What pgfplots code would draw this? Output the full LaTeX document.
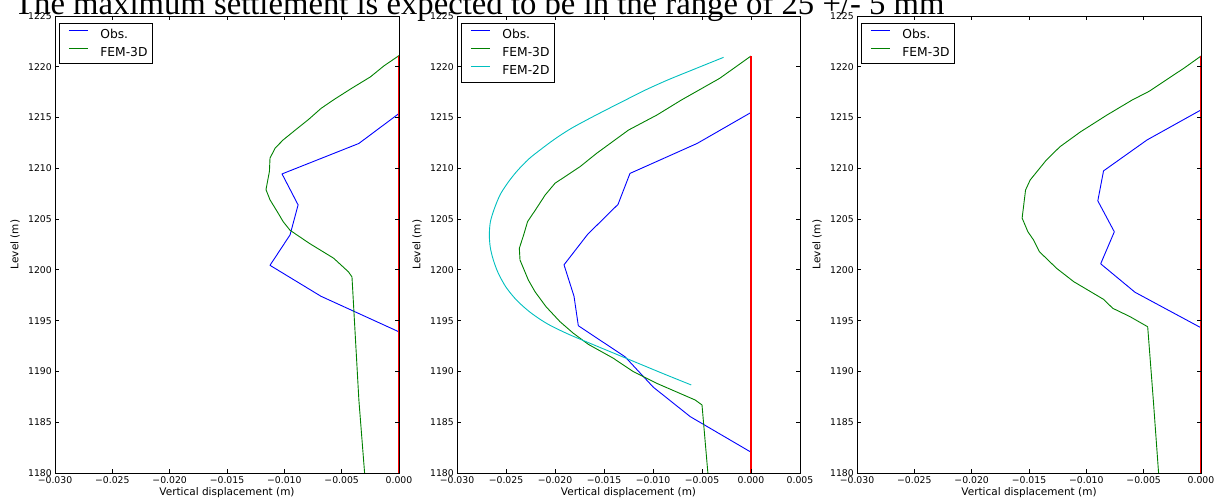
\documentclass[border=0pt]{standalone}
\usepackage{pgfplots}
\pgfplotsset{compat=1.18}
\usepackage{fontspec}
\setmainfont{DejaVu Sans}
\newfontfamily\titlefont{Liberation Serif}

\definecolor{mplblue}{rgb}{0,0,1}
\definecolor{mplgreen}{rgb}{0,0.5,0}
\definecolor{mplcyan}{rgb}{0,0.75,0.75}
\definecolor{mplred}{rgb}{1,0,0}

% one matplotlib-like panel, 1pt = 1px of the reference
\pgfplotsset{
  panel/.style={
    scale only axis, width=344pt, height=457pt, anchor=south west,
    xmin=-0.03, ymin=1180, ymax=1225,
    ytick={1180,1185,1190,1195,1200,1205,1210,1215,1220,1225},
    scaled x ticks=false, scaled y ticks=false,
    axis on top,
    tick align=inside, major tick length=4pt,
    tick style={black, line width=0.8pt},
    axis line style={black, line width=0.9pt},
    /pgf/number format/assume math mode=true,
    /pgf/number format/1000 sep={},
    tick label style={font=\fontsize{9.3}{11}\selectfont},
    xticklabel style={inner sep=0pt, yshift=-3pt},
    yticklabel style={inner sep=0pt, xshift=-3pt},
    label style={font=\fontsize{10.5}{12}\selectfont},
    xlabel={Vertical displacement (m)},
    ylabel={Level (m)},
    xlabel style={at={(axis description cs:0.5,-0.0503)}, anchor=base},
    ylabel style={at={(axis description cs:-0.1163,0.5)}, anchor=center},
    legend cell align=left,
    legend style={at={(axis description cs:0.0116,0.985)}, anchor=north west,
      draw=black, line width=0.9pt, fill=white,
      inner xsep=5pt, inner ysep=1.8pt,
      font=\fontsize{12.3}{14}\selectfont,
      nodes={inner xsep=0pt, inner ysep=3pt, text height=9.9pt, text depth=2.5pt}},
    every axis plot/.append style={line width=0.9pt, line join=round},
  },
}
\pgfplotsset{legend image code/.code={%
  \path (0pt,0pt) (35pt,0pt);
  \draw[#1] (4pt,4.2pt) -- (23pt,4.2pt);}}

\begin{document}
\begin{tikzpicture}
\node[anchor=base west, inner sep=0pt, font=\titlefont\fontsize{32.7}{36}\selectfont]
  at (14pt,484pt) {The maximum settlement is expected to be in the range of 25 +/- 5 mm};

% ---- panel 1 ----
\begin{axis}[panel, at={(55pt,26pt)}, xmax=0,
  xtick={-0.03,-0.025,-0.02,-0.015,-0.01,-0.005,0},
  xticklabels={−0.030,−0.025,−0.020,−0.015,−0.010,−0.005,0.000}]
\addplot[draw=mplblue] coordinates {
  (0,1215.4) (-0.0035,1212.45) (-0.0102,1209.45) (-0.0088,1206.4)
  (-0.0095,1203.45) (-0.01125,1200.45) (-0.0068,1197.4) (0,1193.9)};
\addlegendentry{Obs.}
\addplot[draw=mplgreen] coordinates {
  (0,1221.1) (-0.0013,1220.1) (-0.0025,1219.0) (-0.0041,1217.9) (-0.0057,1216.75)
  (-0.0068,1215.9) (-0.0079,1214.8) (-0.0089,1213.9) (-0.0101,1212.8) (-0.0108,1212.0)
  (-0.01125,1211.0) (-0.0113,1209.7) (-0.0116,1207.9) (-0.01125,1206.9) (-0.0106,1205.7)
  (-0.0101,1204.75) (-0.0095,1203.9) (-0.0078,1202.6) (-0.0057,1201.15) (-0.0044,1199.8)
  (-0.0041,1199.3) (-0.0035,1187.2) (-0.0030,1180)};
\addlegendentry{FEM-3D}
\addplot[draw=mplred, line width=1.1pt, forget plot] coordinates {(0,1180) (0,1221.1)};
\end{axis}

% ---- panel 2 ----
\begin{axis}[panel, at={(457pt,26pt)}, width=343pt, xmax=0.005,
  xtick={-0.03,-0.025,-0.02,-0.015,-0.01,-0.005,0,0.005},
  xticklabels={−0.030,−0.025,−0.020,−0.015,−0.010,−0.005,0.000,0.005}]
\addplot[draw=mplblue] coordinates {
  (0,1215.5) (-0.0055,1212.45) (-0.01235,1209.5) (-0.01357,1206.45) (-0.01667,1203.5)
  (-0.01908,1200.5) (-0.01806,1197.4) (-0.01762,1194.5) (-0.01286,1191.45)
  (-0.00997,1188.45) (-0.0062,1185.55) (0,1182.05)};
\addlegendentry{Obs.}
\addplot[draw=mplgreen] coordinates {
  (0,1221.06) (-0.0032,1218.86) (-0.0071,1216.73) (-0.0096,1215.25) (-0.0125,1213.77)
  (-0.01575,1211.48) (-0.01745,1210.16) (-0.0200,1208.53) (-0.0210,1207.38)
  (-0.0220,1205.9) (-0.0228,1204.75) (-0.0232,1203.44) (-0.02364,1202.13)
  (-0.02357,1200.97) (-0.02272,1199.0) (-0.02204,1197.85) (-0.02092,1196.38)
  (-0.01949,1194.9) (-0.01813,1193.76) (-0.0166,1192.67) (-0.01405,1191.3)
  (-0.01201,1189.98) (-0.00962,1188.83) (-0.0057,1187.19) (-0.0050,1186.7) (-0.0044,1180)};
\addlegendentry{FEM-3D}
\addplot[draw=mplcyan, smooth] coordinates {
  (-0.0028,1220.93) (-0.0057,1219.8) (-0.0085,1218.7) (-0.0108,1217.7) (-0.0128,1216.73)
  (-0.0147,1215.8) (-0.0165,1214.9) (-0.0184,1213.9) (-0.0200,1212.9) (-0.0214,1211.9)
  (-0.0227,1210.9) (-0.0239,1209.7) (-0.0248,1208.6) (-0.0256,1207.4) (-0.0262,1206.0)
  (-0.0266,1204.7) (-0.0267,1203.4) (-0.0266,1202.2) (-0.0263,1201.0) (-0.0258,1199.7)
  (-0.0250,1198.3) (-0.0239,1197.0) (-0.0225,1195.8) (-0.0208,1194.7) (-0.0187,1193.7)
  (-0.0160,1192.6) (-0.0125,1191.2) (-0.0090,1189.8) (-0.0061,1188.67)};
\addlegendentry{FEM-2D}
\addplot[draw=mplred, line width=1.1pt, forget plot] coordinates {(0,1180) (0,1221.06)};
\end{axis}

% ---- panel 3 ----
\begin{axis}[panel, at={(857pt,26pt)}, xmax=0,
  xtick={-0.03,-0.025,-0.02,-0.015,-0.01,-0.005,0},
  xticklabels={−0.030,−0.025,−0.020,−0.015,−0.010,−0.005,0.000}]
\addplot[draw=mplblue] coordinates {
  (0,1215.75) (-0.0047,1212.8) (-0.0085,1209.75) (-0.0090,1206.8) (-0.00756,1203.75)
  (-0.00875,1200.6) (-0.00576,1197.8) (0,1194.3)};
\addlegendentry{Obs.}
\addplot[draw=mplgreen] coordinates {
  (0,1221.06) (-0.0015,1219.85) (-0.0027,1218.96) (-0.0045,1217.6) (-0.0060,1216.73)
  (-0.0082,1215.25) (-0.0105,1213.6) (-0.0123,1212.13) (-0.0135,1210.8) (-0.0149,1208.85)
  (-0.0153,1207.87) (-0.0156,1205.1) (-0.0151,1203.76) (-0.0146,1202.94) (-0.0141,1201.8)
  (-0.0126,1200.16) (-0.0111,1198.84) (-0.0085,1197.1) (-0.0077,1196.22) (-0.0062,1195.4)
  (-0.00465,1194.4) (-0.00416,1187.19) (-0.0037,1180)};
\addlegendentry{FEM-3D}
\addplot[draw=mplred, line width=1.1pt, forget plot] coordinates {(0,1180) (0,1221.06)};
\end{axis}

\pgfresetboundingbox
\path[use as bounding box] (0pt,0pt) rectangle (1214pt,499pt);
\end{tikzpicture}
\end{document}
